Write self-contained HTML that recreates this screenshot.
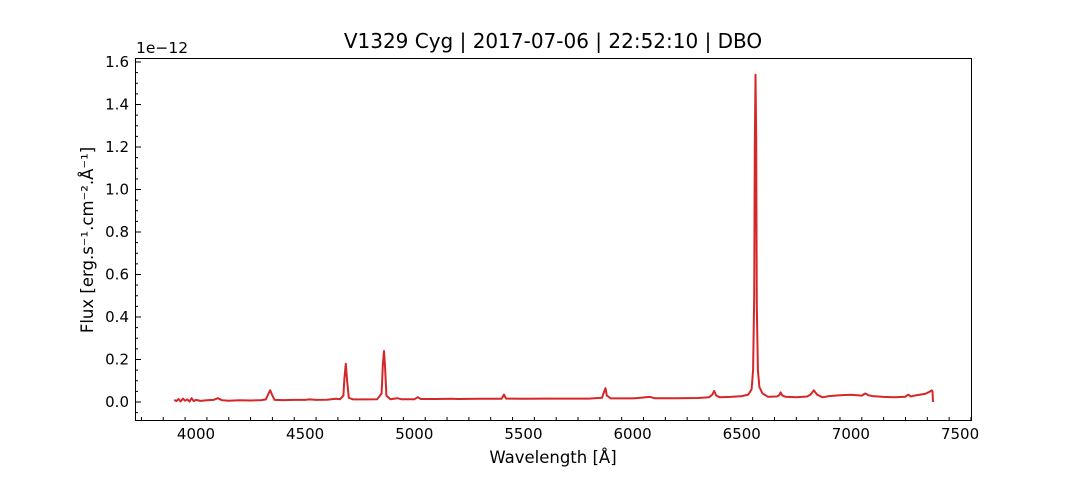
<!DOCTYPE html>
<html><head><meta charset="utf-8"><style>
body{margin:0;background:#fff}
svg text{font-family:"DejaVu Sans","Liberation Sans",sans-serif;fill:#000}
</style></head><body>
<svg id="c" width="1080" height="480" viewBox="0 0 1080 480">
<rect width="1080" height="480" fill="#fff"/>
<text x="553" y="48" font-size="20" text-anchor="middle">V1329 Cyg | 2017-07-06 | 22:52:10 | DBO</text>
<text x="136" y="53" font-size="15.5">1e−12</text>
<text transform="translate(93,240) rotate(-90)" font-size="16.5" text-anchor="middle">Flux [erg.s⁻¹.cm⁻².Å⁻¹]</text>
<text x="553" y="463" font-size="16.5" text-anchor="middle">Wavelength [Å]</text>
<g id="ticks"></g>
<path id="line" fill="none" stroke="#d62728" stroke-width="2" stroke-linejoin="round"/>
<rect x="135.5" y="58.5" width="836" height="362" fill="none" stroke="#000" stroke-width="1"/>
</svg>
<script>
const wavelengths=[3900,3910,3920,3930,3940,3950,3960,3970,3980,3990,4000,4020,4050,4080,4100,4120,4150,4200,4250,4300,4320,4330,4340,4350,4360,4400,4450,4500,4520,4550,4600,4640,4660,4675,4680,4686,4692,4700,4720,4780,4830,4850,4856,4861,4866,4872,4890,4922,4940,5000,5016,5030,5100,5170,5200,5300,5350,5400,5411,5420,5500,5600,5700,5800,5860,5870,5876,5882,5900,6000,6080,6100,6200,6300,6350,6365,6374,6383,6400,6450,6500,6530,6545,6552,6557,6560,6563,6566,6569,6574,6581,6595,6620,6660,6670,6678,6686,6700,6750,6800,6815,6830,6845,6870,6900,6950,7000,7050,7065,7080,7100,7150,7200,7250,7262,7275,7300,7340,7360,7370,7374,7376];
const fluxes=[0.010,0.004,0.014,0.003,0.016,0.006,0.012,0.002,0.018,0.004,0.010,0.005,0.008,0.010,0.018,0.008,0.006,0.008,0.007,0.009,0.012,0.035,0.055,0.030,0.010,0.009,0.010,0.010,0.012,0.010,0.011,0.015,0.013,0.030,0.110,0.180,0.100,0.020,0.012,0.012,0.013,0.040,0.180,0.240,0.170,0.030,0.013,0.018,0.013,0.013,0.022,0.014,0.014,0.015,0.014,0.015,0.015,0.015,0.035,0.016,0.015,0.016,0.016,0.016,0.020,0.050,0.065,0.030,0.017,0.017,0.024,0.018,0.018,0.019,0.022,0.035,0.052,0.030,0.022,0.024,0.028,0.035,0.060,0.150,0.500,1.200,1.540,1.250,0.450,0.150,0.070,0.040,0.025,0.026,0.030,0.045,0.030,0.025,0.022,0.026,0.035,0.055,0.035,0.022,0.028,0.032,0.034,0.030,0.040,0.032,0.028,0.024,0.022,0.025,0.035,0.026,0.032,0.038,0.048,0.055,0.050,0.000];
const xTicks=[4000,4500,5000,5500,6000,6500,7000,7500];
const yTicks=[0.0,0.2,0.4,0.6,0.8,1.0,1.2,1.4,1.6];
const NS='http://www.w3.org/2000/svg';
const x=v=>196+(v-4000)*0.2183;
const y=v=>402-v*212.5;
document.getElementById('line').setAttribute('d',wavelengths.map((w,i)=>(i?'L':'M')+x(w).toFixed(1)+','+y(fluxes[i]).toFixed(1)).join(''));
const g=document.getElementById('ticks');
function mk(tag,attrs,txt){const e=document.createElementNS(NS,tag);for(const k in attrs)e.setAttribute(k,attrs[k]);if(txt!==undefined)e.textContent=txt;g.appendChild(e);return e;}
for(let v=3750;v<=7550;v+=100){const px=x(v);if(px<136||px>971)continue;const major=v%500===0;
 const t=mk('line',{x1:px,x2:px,y1:420,y2:major?414:417,stroke:'#000','stroke-width':1});
 
 }
xTicks.forEach(v=>{const t=mk('text',{x:x(v),y:439,'font-size':15,'text-anchor':'middle'},String(v));
 
 });
for(let k=-1;k<=33;k++){const v=k*0.05;const py=y(v);if(py<59||py>420)continue;const major=k%4===0;
 const t=mk('line',{x1:135,x2:major?141:138,y1:py,y2:py,stroke:'#000','stroke-width':1});
 
 }
yTicks.forEach(v=>{const t=mk('text',{x:129,y:y(v)+5,'font-size':15,'text-anchor':'end'},v.toFixed(1));
 
 });
</script>
</body></html>
